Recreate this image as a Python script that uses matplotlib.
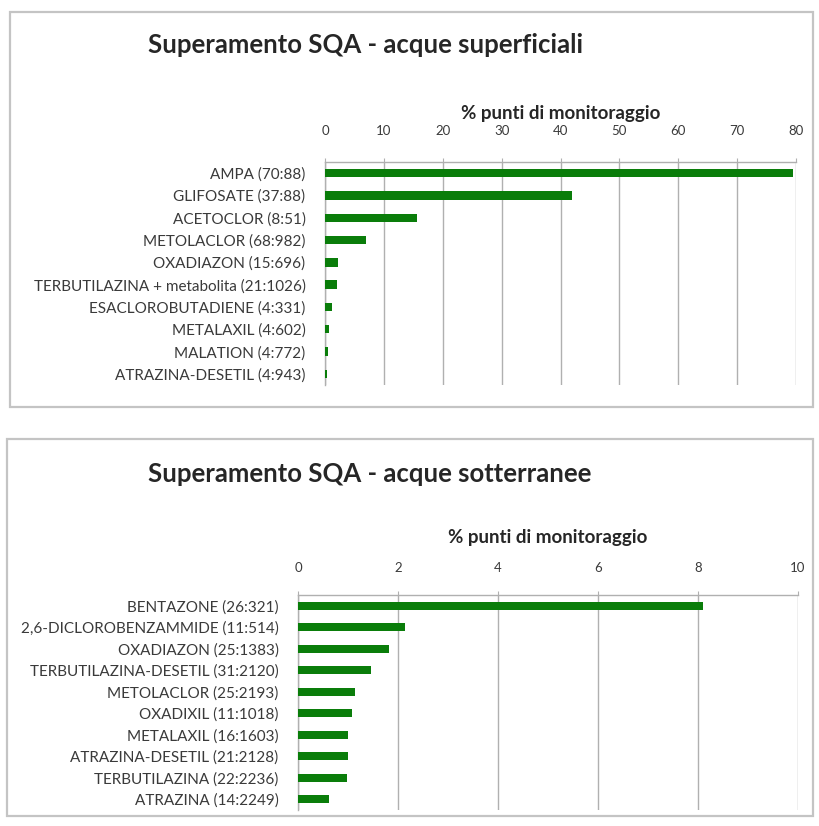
import matplotlib
matplotlib.use("Agg")
import matplotlib.pyplot as plt
from matplotlib.patches import Rectangle

plt.rcParams['font.family'] = ['Lato', 'DejaVu Sans']

# Surface waters: substances exceeding SQA (exceedances : monitoring points)
sup_labels = [
    "AMPA (70:88)",
    "GLIFOSATE (37:88)",
    "ACETOCLOR (8:51)",
    "METOLACLOR (68:982)",
    "OXADIAZON (15:696)",
    "TERBUTILAZINA + metabolita (21:1026)",
    "ESACLOROBUTADIENE (4:331)",
    "METALAXIL (4:602)",
    "MALATION (4:772)",
    "ATRAZINA-DESETIL (4:943)",
]
sup_values = [79.5, 42.0, 15.7, 6.9, 2.2, 2.0, 1.2, 0.66, 0.52, 0.42]
sup_ticks = [0, 10, 20, 30, 40, 50, 60, 70, 80]

# Groundwater
sott_labels = [
    "BENTAZONE (26:321)",
    "2,6-DICLOROBENZAMMIDE (11:514)",
    "OXADIAZON (25:1383)",
    "TERBUTILAZINA-DESETIL (31:2120)",
    "METOLACLOR (25:2193)",
    "OXADIXIL (11:1018)",
    "METALAXIL (16:1603)",
    "ATRAZINA-DESETIL (21:2128)",
    "TERBUTILAZINA (22:2236)",
    "ATRAZINA (14:2249)",
]
sott_values = [8.1, 2.14, 1.81, 1.46, 1.14, 1.08, 1.0, 0.99, 0.98, 0.62]
sott_ticks = [0, 2, 4, 6, 8, 10]

W, H = 819, 826
fig = plt.figure(figsize=(W / 100, H / 100), dpi=100)
fig.patch.set_facecolor("white")

BAR = "#0a7d0a"
GRID = "#b0b0b0"
TXT = "#3a3a3a"


def fx(px):
    return px / W


def fy(py):
    return 1 - py / H


def panel(box, title, title_base, ax_box, xlabel_y, tick_pad,
          labels, values, ticks):
    x0, y0, x1, y1 = box
    fig.patches.append(Rectangle((fx(x0), fy(y1)), fx(x1 - x0), (y1 - y0) / H,
                                 transform=fig.transFigure, fill=False,
                                 edgecolor="#c4c4c4", linewidth=1.6))
    fig.text(fx(title_base[0]), fy(title_base[1]), title, fontsize=18.5,
             fontweight="bold", color="#262626", ha="left", va="baseline")
    l, t, r, b = ax_box
    ax = fig.add_axes([fx(l), fy(b), fx(r - l), (b - t) / H])
    n = len(labels)
    ypos = list(range(n))
    ax.barh(ypos, values, height=0.38, color=BAR, zorder=3)
    ax.set_ylim(n - 0.5, -0.5)
    ax.set_xlim(ticks[0], ticks[-1])
    ax.set_yticks(ypos)
    ax.set_yticklabels(labels, fontsize=11, color=TXT)
    ax.set_xticks(ticks)
    ax.xaxis.tick_top()
    ax.tick_params(axis="x", labelsize=9.5, labelcolor=TXT, length=3,
                   color=GRID, pad=tick_pad)
    ax.tick_params(axis="y", length=0, pad=14)
    ax.grid(axis="x", color=GRID, linewidth=1.0, zorder=0)
    for s in ("right", "bottom"):
        ax.spines[s].set_visible(False)
    for s in ("top", "left"):
        ax.spines[s].set_color(GRID)
        ax.spines[s].set_linewidth(1.0)
    fig.text(fx((l + r) / 2), fy(xlabel_y), "% punti di monitoraggio",
             fontsize=13.5, fontweight="bold",
             color="#262626", ha="center", va="center")
    return ax


panel((10, 12, 813, 407), "Superamento SQA - acque superficiali", (148, 53),
      (325, 162, 796, 385), 113, 15, sup_labels, sup_values, sup_ticks)
panel((7, 439, 813, 816), "Superamento SQA - acque sotterranee", (148, 482),
      (298, 595, 798, 810), 538, 12, sott_labels, sott_values, sott_ticks)

fig.savefig("out.png", dpi=100, facecolor="white")
